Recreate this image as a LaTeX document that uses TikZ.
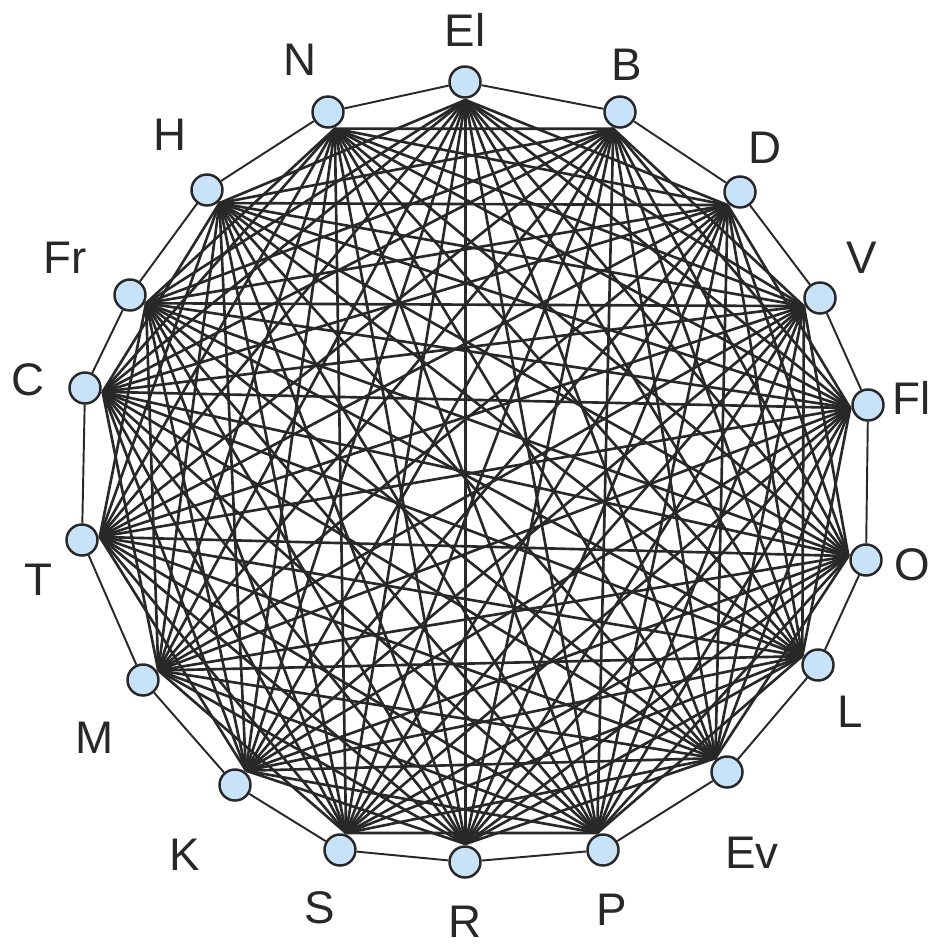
\documentclass[tikz,border=0pt]{standalone}
\usepackage{fontspec}
\setmainfont{Liberation Sans}
\usetikzlibrary{calc,backgrounds}
\definecolor{vblue}{RGB}{200,226,247}
\definecolor{ink}{RGB}{40,40,40}
\def\vnames{El,B,D,V,Fl,O,L,Ev,P,R,S,K,M,T,C,Fr,H,N}

\begin{document}
\begin{tikzpicture}[x=0.01cm,y=-0.01cm,
    vert/.style={circle,draw=ink,fill=vblue,line width=0.7pt,minimum size=0.31cm,inner sep=0pt},
    chord/.style={draw=ink,line width=0.75pt},
    rim/.style={draw=ink,line width=0.55pt},
    tag/.style={font=\fontsize{13}{15}\selectfont,text=ink,inner sep=0pt}]
    \useasboundingbox (0,0) rectangle (932,948);
    \coordinate (ctr) at (475,472);
    % vertices and their labels
    \foreach \v/\x/\y/\lx/\ly in {El/465/82/465/30, B/620/112/627/65, D/740/192/765/148,
        V/820/298/862/258, Fl/868/405/912/398, O/866/560/912/565, L/818/665/850/712,
        Ev/727/772/752/853, P/603/850/612/910, R/465/862/465/922, S/340/850/320/908,
        K/235/785/185/855, M/143/680/95/738, T/82/540/38/580, C/85/388/28/380,
        Fr/130/295/65/258, H/207/190/170/135, N/328/112/300/60}{
        \node[vert] (\v) at (\x,\y) {};
        \node[tag] (lab-\v) at (\lx,\ly) {\v};
        \coordinate (h-\v) at ($(\v.center)!0.18cm!(ctr)$);
    }
    \begin{scope}[on background layer]
        % chords between non-neighbours
        \foreach \a [count=\i] in \vnames {
            \foreach \b [count=\j] in \vnames {
                \pgfmathtruncatemacro\d{\j-\i}
                \ifnum\d>1 \ifnum\d<17
                    \draw[chord] (h-\a) -- (h-\b);
                \fi\fi
            }
        }
        % outer ring
        \draw[rim] (El) -- (B) -- (D) -- (V) -- (Fl) -- (O) -- (L) -- (Ev) -- (P)
            -- (R) -- (S) -- (K) -- (M) -- (T) -- (C) -- (Fr) -- (H) -- (N) -- (El);
    \end{scope}
\end{tikzpicture}
\end{document}
